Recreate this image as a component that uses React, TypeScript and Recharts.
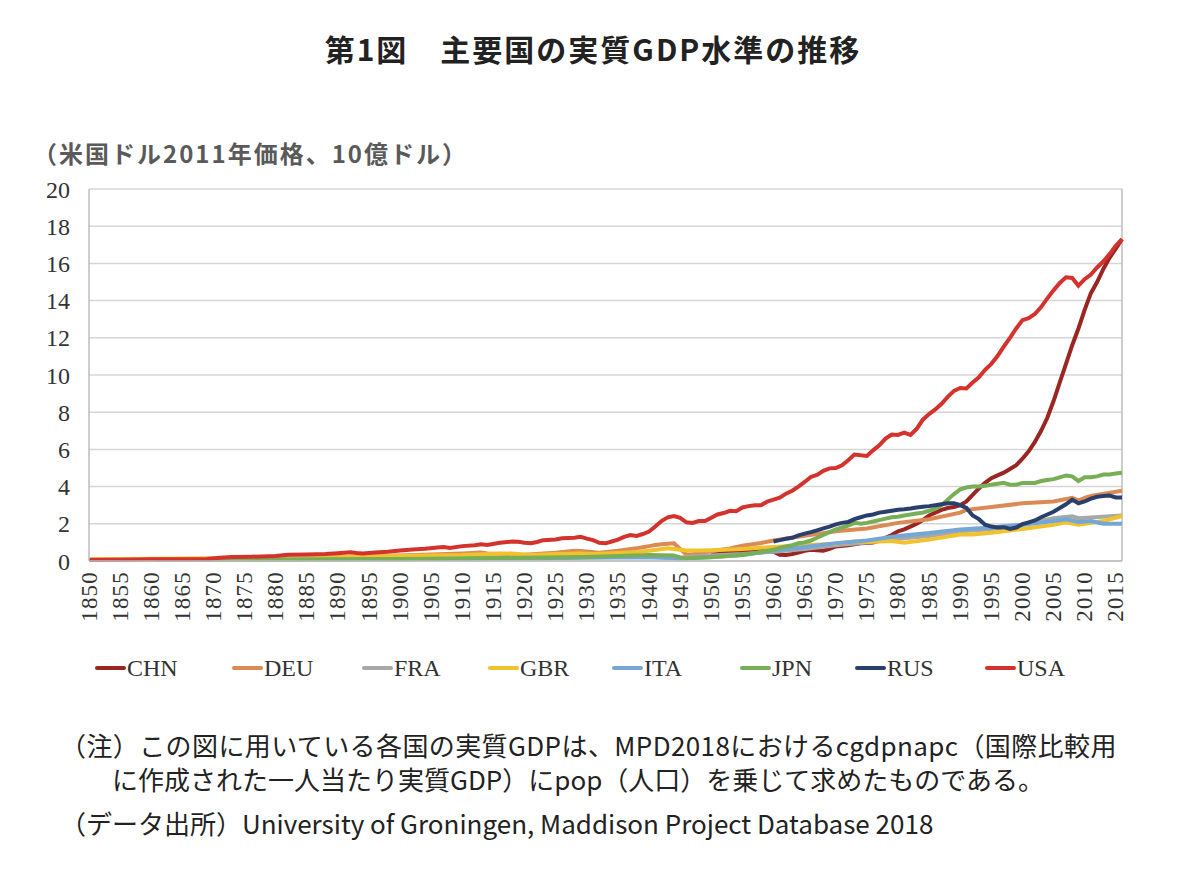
import React from 'react';
import { LineChart, Line, XAxis, YAxis, CartesianGrid, ReferenceLine } from 'recharts';

type Pt = [number, number];

const CHN: Pt[] = [
  [1950, 0.35], [1952, 0.45], [1955, 0.5], [1958, 0.62], [1959, 0.58], [1960, 0.5], [1961, 0.33], [1962, 0.32],
  [1963, 0.38], [1964, 0.45], [1965, 0.55], [1966, 0.6], [1967, 0.58], [1968, 0.55], [1969, 0.65], [1970, 0.78],
  [1972, 0.85], [1974, 0.95], [1976, 1.0], [1977, 1.1], [1978, 1.25], [1979, 1.4], [1980, 1.6], [1981, 1.7],
  [1982, 1.85], [1983, 2.0], [1984, 2.2], [1985, 2.45], [1986, 2.6], [1987, 2.75], [1988, 2.85], [1989, 2.9],
  [1990, 3.0], [1991, 3.2], [1992, 3.55], [1993, 3.9], [1994, 4.2], [1995, 4.45], [1996, 4.6], [1997, 4.75],
  [1998, 4.95], [1999, 5.15], [2000, 5.5], [2001, 5.9], [2002, 6.4], [2003, 7.0], [2004, 7.7], [2005, 8.6],
  [2006, 9.6], [2007, 10.6], [2008, 11.6], [2009, 12.5], [2010, 13.5], [2011, 14.4], [2012, 15.0], [2013, 15.7],
  [2014, 16.3], [2015, 16.8], [2016, 17.3],
];

const DEU: Pt[] = [
  [1850, 0.07], [1860, 0.09], [1870, 0.12], [1880, 0.15], [1890, 0.2], [1900, 0.3], [1905, 0.35], [1910, 0.4],
  [1913, 0.45], [1914, 0.4], [1918, 0.38], [1919, 0.3], [1920, 0.33], [1925, 0.45], [1928, 0.55], [1929, 0.54],
  [1932, 0.45], [1935, 0.55], [1938, 0.68], [1939, 0.74], [1940, 0.8], [1941, 0.86], [1942, 0.9], [1943, 0.93],
  [1944, 0.95], [1945, 0.65], [1946, 0.35], [1947, 0.36], [1948, 0.42], [1950, 0.52], [1953, 0.68], [1955, 0.82],
  [1958, 0.97], [1960, 1.1], [1965, 1.35], [1970, 1.6], [1975, 1.75], [1980, 2.05], [1985, 2.25], [1990, 2.6],
  [1991, 2.75], [1995, 2.9], [2000, 3.1], [2005, 3.2], [2008, 3.4], [2009, 3.25], [2010, 3.4], [2011, 3.5],
  [2016, 3.78],
];

const FRA: Pt[] = [
  [1850, 0.08], [1870, 0.1], [1900, 0.17], [1913, 0.22], [1918, 0.15], [1920, 0.2], [1929, 0.28], [1932, 0.25],
  [1938, 0.27], [1944, 0.15], [1946, 0.22], [1950, 0.3], [1955, 0.38], [1960, 0.5], [1965, 0.65], [1970, 0.85],
  [1975, 1.0], [1980, 1.2], [1985, 1.35], [1990, 1.6], [1995, 1.7], [2000, 1.95], [2005, 2.3], [2008, 2.4],
  [2009, 2.3], [2016, 2.45],
];

const GBR: Pt[] = [
  [1850, 0.1], [1860, 0.12], [1870, 0.15], [1880, 0.18], [1890, 0.22], [1900, 0.28], [1910, 0.32], [1913, 0.36],
  [1918, 0.4], [1920, 0.35], [1921, 0.32], [1925, 0.37], [1929, 0.4], [1931, 0.38], [1935, 0.43], [1938, 0.48],
  [1940, 0.55], [1943, 0.68], [1944, 0.65], [1946, 0.57], [1948, 0.56], [1950, 0.58], [1955, 0.65], [1960, 0.75],
  [1965, 0.85], [1970, 0.93], [1973, 1.05], [1975, 1.02], [1979, 1.08], [1981, 0.98], [1985, 1.15], [1990, 1.42],
  [1992, 1.42], [1995, 1.52], [2000, 1.72], [2005, 1.95], [2007, 2.08], [2009, 1.95], [2010, 2.0], [2013, 2.15],
  [2016, 2.42],
];

const ITA: Pt[] = [
  [1861, 0.05], [1870, 0.06], [1880, 0.07], [1890, 0.08], [1900, 0.09], [1910, 0.12], [1913, 0.13], [1920, 0.14],
  [1930, 0.17], [1939, 0.2], [1943, 0.18], [1945, 0.12], [1946, 0.15], [1950, 0.22], [1955, 0.32], [1960, 0.55],
  [1965, 0.75], [1970, 0.95], [1975, 1.1], [1980, 1.35], [1985, 1.5], [1990, 1.7], [1995, 1.8], [2000, 1.95],
  [2005, 2.15], [2007, 2.25], [2009, 2.1], [2011, 2.15], [2013, 2.0], [2016, 2.0],
];

const JPN: Pt[] = [
  [1870, 0.06], [1880, 0.07], [1890, 0.09], [1900, 0.11], [1910, 0.13], [1920, 0.18], [1930, 0.22], [1940, 0.32],
  [1944, 0.3], [1945, 0.18], [1946, 0.15], [1950, 0.2], [1955, 0.32], [1960, 0.6], [1961, 0.7], [1962, 0.78],
  [1963, 0.85], [1964, 0.95], [1965, 1.0], [1966, 1.1], [1967, 1.25], [1968, 1.4], [1969, 1.55], [1970, 1.7],
  [1971, 1.8], [1972, 1.9], [1973, 2.05], [1974, 2.0], [1975, 2.05], [1976, 2.12], [1977, 2.2], [1978, 2.28],
  [1979, 2.35], [1980, 2.38], [1981, 2.45], [1982, 2.5], [1983, 2.55], [1984, 2.6], [1985, 2.7], [1986, 2.8],
  [1987, 3.0], [1988, 3.3], [1989, 3.6], [1990, 3.85], [1991, 3.95], [1992, 4.0], [1993, 4.0], [1994, 4.05],
  [1995, 4.1], [1996, 4.15], [1997, 4.2], [1998, 4.1], [1999, 4.1], [2000, 4.2], [2001, 4.2], [2002, 4.2],
  [2003, 4.3], [2004, 4.35], [2005, 4.4], [2006, 4.5], [2007, 4.6], [2008, 4.55], [2009, 4.3], [2010, 4.5],
  [2011, 4.5], [2012, 4.55], [2013, 4.65], [2014, 4.65], [2015, 4.7], [2016, 4.75],
];

const RUS: Pt[] = [
  [1960, 1.05], [1961, 1.12], [1962, 1.2], [1963, 1.25], [1964, 1.38], [1965, 1.47], [1966, 1.55], [1967, 1.65],
  [1968, 1.75], [1969, 1.85], [1970, 1.97], [1971, 2.05], [1972, 2.1], [1973, 2.25], [1974, 2.35], [1975, 2.45],
  [1976, 2.5], [1977, 2.6], [1978, 2.65], [1979, 2.7], [1980, 2.75], [1981, 2.78], [1982, 2.82], [1983, 2.88],
  [1984, 2.92], [1985, 2.95], [1986, 3.0], [1987, 3.05], [1988, 3.1], [1989, 3.1], [1990, 3.0], [1991, 2.85],
  [1992, 2.45], [1993, 2.25], [1994, 1.95], [1995, 1.85], [1996, 1.8], [1997, 1.82], [1998, 1.72], [1999, 1.8],
  [2000, 1.98], [2001, 2.08], [2002, 2.18], [2003, 2.35], [2004, 2.5], [2005, 2.65], [2006, 2.85], [2007, 3.05],
  [2008, 3.3], [2009, 3.1], [2010, 3.2], [2011, 3.35], [2012, 3.45], [2013, 3.5], [2014, 3.52], [2015, 3.42],
  [2016, 3.42],
];

const USA: Pt[] = [
  [1850, 0.06], [1855, 0.07], [1860, 0.09], [1865, 0.1], [1869, 0.11], [1871, 0.17], [1873, 0.22], [1876, 0.23],
  [1880, 0.27], [1882, 0.34], [1885, 0.35], [1888, 0.38], [1890, 0.42], [1892, 0.47], [1893, 0.43], [1894, 0.41],
  [1896, 0.46], [1898, 0.5], [1900, 0.56], [1902, 0.62], [1904, 0.66], [1906, 0.72], [1907, 0.75], [1908, 0.7],
  [1910, 0.8], [1912, 0.85], [1913, 0.9], [1914, 0.86], [1916, 0.98], [1918, 1.05], [1919, 1.03], [1920, 0.98],
  [1921, 0.95], [1922, 1.02], [1923, 1.12], [1925, 1.16], [1926, 1.22], [1928, 1.25], [1929, 1.3], [1930, 1.2],
  [1931, 1.12], [1932, 0.98], [1933, 0.95], [1934, 1.05], [1935, 1.15], [1936, 1.3], [1937, 1.4], [1938, 1.35],
  [1939, 1.45], [1940, 1.58], [1941, 1.85], [1942, 2.15], [1943, 2.35], [1944, 2.42], [1945, 2.32], [1946, 2.08],
  [1947, 2.05], [1948, 2.15], [1949, 2.15], [1950, 2.32], [1951, 2.5], [1952, 2.58], [1953, 2.7], [1954, 2.68],
  [1955, 2.88], [1956, 2.95], [1957, 3.0], [1958, 3.0], [1959, 3.2], [1960, 3.3], [1961, 3.4], [1962, 3.62],
  [1963, 3.78], [1964, 4.0], [1965, 4.25], [1966, 4.52], [1967, 4.63], [1968, 4.85], [1969, 4.98], [1970, 5.0],
  [1971, 5.15], [1972, 5.42], [1973, 5.72], [1974, 5.68], [1975, 5.65], [1976, 5.95], [1977, 6.22], [1978, 6.58],
  [1979, 6.8], [1980, 6.78], [1981, 6.9], [1982, 6.78], [1983, 7.1], [1984, 7.6], [1985, 7.9], [1986, 8.15],
  [1987, 8.45], [1988, 8.82], [1989, 9.15], [1990, 9.3], [1991, 9.28], [1992, 9.6], [1993, 9.88], [1994, 10.28],
  [1995, 10.6], [1996, 11.02], [1997, 11.52], [1998, 12.0], [1999, 12.5], [2000, 12.95], [2001, 13.05],
  [2002, 13.28], [2003, 13.65], [2004, 14.12], [2005, 14.55], [2006, 14.95], [2007, 15.25], [2008, 15.22],
  [2009, 14.8], [2010, 15.15], [2011, 15.4], [2012, 15.78], [2013, 16.1], [2014, 16.5], [2015, 16.95], [2016, 17.3],
];

const SERIES_NAMES = ['CHN', 'DEU', 'FRA', 'GBR', 'ITA', 'JPN', 'RUS', 'USA'];
const SERIES_DATA: Pt[][] = [CHN, DEU, FRA, GBR, ITA, JPN, RUS, USA];
const SERIES_COLORS = ['#9a2622', '#dc8a55', '#a8a8a8', '#f0c22e', '#74a7d6', '#78ae55', '#293f6c', '#d3332c'];

const X_TICKS = [
  1850, 1855, 1860, 1865, 1870, 1875, 1880, 1885, 1890, 1895, 1900, 1905, 1910, 1915, 1920, 1925, 1930,
  1935, 1940, 1945, 1950, 1955, 1960, 1965, 1970, 1975, 1980, 1985, 1990, 1995, 2000, 2005, 2010, 2015,
];
const Y_TICKS = [0, 2, 4, 6, 8, 10, 12, 14, 16, 18, 20];

const TITLE = '第1図　主要国の実質GDP水準の推移';
const Y_UNIT = '（米国ドル2011年価格、10億ドル）';
const NOTE_1 = '（注）この図に用いている各国の実質GDPは、MPD2018におけるcgdpnapc（国際比較用';
const NOTE_2 = 'に作成された一人当たり実質GDP）にpop（人口）を乗じて求めたものである。';
const NOTE_3 = '（データ出所）University of Groningen, Maddison Project Database 2018';

const LEGEND_LEFT = [95, 232, 362, 488, 612, 740, 855, 985];

const SERIF = '"Liberation Serif", "DejaVu Serif", serif';
const JP = '"Noto Sans CJK JP", "Noto Sans", sans-serif';

const XTick = (props: any) => {
  const { x, y, payload } = props;
  return (
    <text
      x={x}
      y={y}
      transform={`rotate(-90 ${x} ${y})`}
      textAnchor="end"
      dominantBaseline="central"
      fontFamily={SERIF}
      fontSize={23}
      letterSpacing={1.2}
      fill="#333"
    >
      {payload.value}
    </text>
  );
};

const noteStyle: React.CSSProperties = {
  position: 'absolute', fontFamily: JP, fontSize: 26, lineHeight: '32px', color: '#222', whiteSpace: 'nowrap',
};

export default function App() {
  return (
    <div style={{ position: 'absolute', left: 0, top: 0, width: 1200, height: 880, background: '#fff', overflow: 'hidden' }}>
      <div
        style={{
          position: 'absolute', left: 0, top: 30, width: 1186, textAlign: 'center',
          fontFamily: JP, fontWeight: 700, fontSize: 30, lineHeight: '36px', letterSpacing: 2, color: '#222',
        }}
      >
        {TITLE}
      </div>
      <div
        style={{
          position: 'absolute', left: 33, top: 138, fontFamily: JP, fontWeight: 700, fontSize: 24,
          lineHeight: '30px', letterSpacing: 2, color: '#5a5a5a', whiteSpace: 'nowrap',
        }}
      >
        {Y_UNIT}
      </div>
      <div style={{ position: 'absolute', left: 0, top: 170 }}>
        <LineChart width={1200} height={480} margin={{ top: 19, right: 78, left: 9, bottom: 19 }}>
          <CartesianGrid vertical={false} stroke="#d6d6d6" strokeWidth={1.5} />
          <XAxis
            dataKey="year"
            type="number"
            domain={[1850, 2016]}
            ticks={X_TICKS}
            interval={0}
            height={70}
            tickLine={false}
            tickSize={0}
            tickMargin={10}
            axisLine={{ stroke: '#bdbdbd', strokeWidth: 1.5 }}
            tick={<XTick />}
            allowDuplicatedCategory={false}
          />
          <YAxis
            type="number"
            domain={[0, 20]}
            ticks={Y_TICKS}
            interval={0}
            width={80}
            tickLine={false}
            tickSize={0}
            tickMargin={19}
            axisLine={{ stroke: '#bdbdbd', strokeWidth: 1.5 }}
            tick={{ fontFamily: SERIF, fontSize: 24, fill: '#333' }}
          />
          <ReferenceLine x={2016} stroke="#bdbdbd" strokeWidth={1.5} />
          {SERIES_NAMES.map((name, i) => (
            <Line
              key={name}
              name={name}
              data={SERIES_DATA[i].map(([year, v]) => ({ year, v }))}
              dataKey="v"
              type="linear"
              stroke={SERIES_COLORS[i]}
              strokeWidth={4}
              dot={false}
              activeDot={false}
              isAnimationActive={false}
            />
          ))}
        </LineChart>
      </div>
      {SERIES_NAMES.map((name, i) => (
        <div
          key={name}
          style={{
            position: 'absolute', left: LEGEND_LEFT[i], top: 654, height: 28,
            display: 'flex', alignItems: 'center', whiteSpace: 'nowrap',
          }}
        >
          <span style={{ display: 'inline-block', width: 31, height: 4, background: SERIES_COLORS[i], borderRadius: 2 }} />
          <span style={{ fontFamily: SERIF, fontSize: 24, color: '#333', marginLeft: 1 }}>{name}</span>
        </div>
      ))}
      <div style={{ ...noteStyle, left: 60, top: 729, letterSpacing: 0.4 }}>{NOTE_1}</div>
      <div style={{ ...noteStyle, left: 112, top: 763 }}>{NOTE_2}</div>
      <div style={{ ...noteStyle, left: 60, top: 807 }}>{NOTE_3}</div>
    </div>
  );
}
